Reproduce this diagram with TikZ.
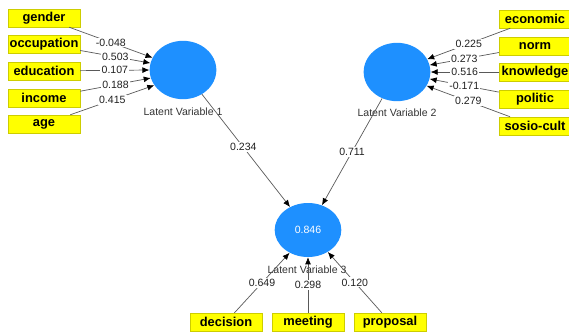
\documentclass[tikz,border=0pt]{standalone}
\usepackage[x11names]{xcolor}
\usepackage{fontspec}
\setmainfont{Liberation Sans}
\colorlet{indicatorbg}{Yellow1}
\colorlet{indicatorline}{Yellow3}
\colorlet{latentbg}{DodgerBlue1}
\colorlet{pathtext}{gray!25!black}
\usetikzlibrary{shapes.geometric, positioning, arrows.meta}
\tikzset{indicator/.style = {rectangle, minimum width=2.16cm, minimum height=0.54cm, inner sep=1pt, draw=indicatorline, fill=indicatorbg, font=\fontsize{11}{13}\selectfont\bfseries}}
\tikzset{latent/.style = {ellipse, minimum width=2cm, minimum height=1.75cm, inner sep=0pt, fill=latentbg, text=white, font=\fontsize{9}{11}\selectfont}}
\tikzset{coef/.style = {fill=white, inner sep=1pt, text=pathtext, font=\fontsize{9}{11}\selectfont}}
\tikzset{lvname/.style = {text=gray!40!black, font=\fontsize{9}{11}\selectfont}}
\tikzset{arrow/.style={-{Latex[length=6pt, width=5pt, black]}, draw=black!65, line width=.6pt}}

\begin{document}
\begin{tikzpicture}[x=0.03cm, y=-0.03cm]
	\useasboundingbox (0,0) rectangle (569,335);
	% latent variables
	\node[latent] (lv1) at (183,70) {};
	\node[latent] (lv2) at (397,72) {};
	\node[latent, minimum height=1.62cm] (lv3) at (308,230) {0.846};
	\node[lvname] (lv1name) at (183,112) {Latent Variable 1};
	\node[lvname] (lv2name) at (397,113) {Latent Variable 2};
	\node[lvname] (lv3name) at (307,270) {Latent Variable 3};
	% indicators
	\node[indicator] (gender) at (44,18) {gender};
	\node[indicator] (occupation) at (44,44) {occupation};
	\node[indicator] (education) at (44,71) {education};
	\node[indicator] (income) at (44,98) {income};
	\node[indicator] (age) at (44,124) {age};
	\node[indicator] (economic) at (535,19) {economic};
	\node[indicator] (norm) at (535,46) {norm};
	\node[indicator] (knowledge) at (535,72) {knowledge};
	\node[indicator] (politic) at (535,99) {politic};
	\node[indicator] (sosiocult) at (535,126) {sosio-cult};
	\node[indicator] (decision) at (226,322) {decision};
	\node[indicator] (meeting) at (308,322) {meeting};
	\node[indicator] (proposal) at (390,322) {proposal};
	% paths into Latent Variable 1
	\draw[arrow] (gender) -- node[coef] {-0.048} (lv1.158);
	\draw[arrow] (occupation) -- node[coef] {0.503} (lv1.168);
	\draw[arrow] (education) -- node[coef] {0.107} (lv1.180);
	\draw[arrow] (income) -- node[coef] {0.188} (lv1.194);
	\draw[arrow] (age) -- node[coef] {0.415} (lv1.208);
	% paths into Latent Variable 2
	\draw[arrow] (economic) -- node[coef] {0.225} (lv2.23);
	\draw[arrow] (norm) -- node[coef] {0.273} (lv2.12);
	\draw[arrow] (knowledge) -- node[coef] {0.516} (lv2.0);
	\draw[arrow] (politic) -- node[coef] {-0.171} (lv2.-12);
	\draw[arrow] (sosiocult) -- node[coef] {0.279} (lv2.-25);
	% paths into Latent Variable 3
	\draw[arrow] (lv1) -- node[coef, pos=.47] {0.234} (lv3);
	\draw[arrow] (lv2) -- node[coef] {0.711} (lv3);
	\draw[arrow] (decision) -- node[coef] {0.649} (lv3.231);
	\draw[arrow] (meeting) -- node[coef] {0.298} (lv3.270);
	\draw[arrow] (proposal) -- node[coef] {0.120} (lv3.312);
\end{tikzpicture}
\end{document}
